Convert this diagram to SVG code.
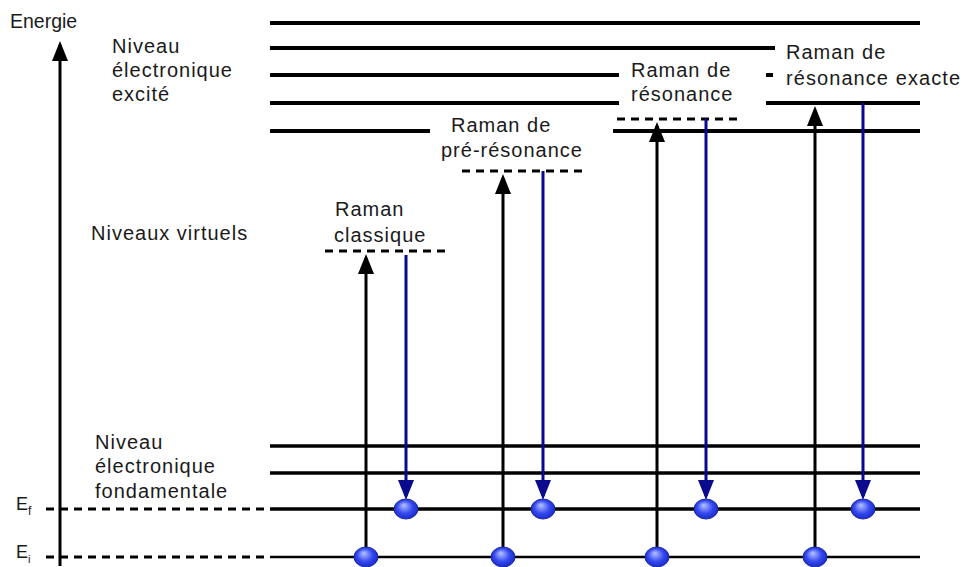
<svg xmlns="http://www.w3.org/2000/svg" width="965" height="567" viewBox="0 0 965 567">
<style>
text{font-family:"Liberation Sans",Arial,sans-serif;font-size:20px;letter-spacing:1px;fill:#1a1a1a}
.lvl{stroke:#000;stroke-width:4;fill:none}
.gnd{stroke:#000;stroke-width:3.5;fill:none}
.dash{stroke:#000;stroke-width:3;stroke-dasharray:8 6;fill:none}
.up{stroke:#000;stroke-width:3;fill:none;marker-end:url(#ah)}
.down{stroke:#0a0a8c;stroke-width:3;fill:none;marker-end:url(#ahb)}
.dot{fill:url(#ball);stroke:#1a2aa0;stroke-width:1}
</style>
<defs>
<marker id="ah" viewBox="0 0 20 16" refX="16" refY="8" markerWidth="20" markerHeight="16" markerUnits="userSpaceOnUse" orient="auto"><path d="M0,0 L20,8 L0,16 z" fill="#000"/></marker>
<marker id="ahb" viewBox="0 0 20 16" refX="16" refY="8" markerWidth="20" markerHeight="16" markerUnits="userSpaceOnUse" orient="auto"><path d="M0,0 L20,8 L0,16 z" fill="#0a0a8c"/></marker>
<radialGradient id="ball" cx="0.5" cy="0.5" r="0.6" fx="0.4" fy="0.3">
<stop offset="0" stop-color="#b8c4ff"/>
<stop offset="0.55" stop-color="#3348f0"/>
<stop offset="1" stop-color="#1420b8"/>
</radialGradient>
</defs>
<rect width="965" height="567" fill="#fff"/>

<g id="axis">
<line x1="60" y1="566" x2="60" y2="45" stroke="#000" stroke-width="3" marker-end="url(#ah)"/>
<text x="10" y="28" style="font-size:19.5px;letter-spacing:0">Energie</text>
</g>

<g id="excited-levels">
<line class="lvl" x1="270" y1="23" x2="920" y2="23"/>
<line class="lvl" x1="270" y1="48" x2="775" y2="48"/>
<line class="lvl" x1="270" y1="75" x2="619" y2="75"/>
<line class="lvl" x1="766" y1="75" x2="773" y2="75"/>
<line class="lvl" x1="270" y1="103" x2="619" y2="103"/>
<line class="lvl" x1="766" y1="103" x2="920" y2="103"/>
<line class="lvl" x1="270" y1="131" x2="430" y2="131"/>
<line class="lvl" x1="613" y1="131" x2="920" y2="131"/>
<text x="112" y="53">Niveau</text>
<text x="112" y="77">électronique</text>
<text x="112" y="101">excité</text>
</g>

<g id="ground-levels">
<line class="gnd" x1="270" y1="446" x2="920" y2="446"/>
<line class="gnd" x1="270" y1="473" x2="920" y2="473"/>
<line class="gnd" x1="270" y1="509" x2="920" y2="509"/>
<line stroke="#000" stroke-width="2.5" x1="270" y1="557" x2="920" y2="557"/>
<line class="dash" x1="46" y1="509" x2="270" y2="509"/>
<line class="dash" x1="46" y1="557" x2="270" y2="557"/>
<text x="95" y="449">Niveau</text>
<text x="95" y="473">électronique</text>
<text x="95" y="498">fondamentale</text>
<text x="16" y="510" style="font-size:18px;letter-spacing:0">E<tspan dy="5" style="font-size:12px">f</tspan></text>
<text x="16" y="558" style="font-size:18px;letter-spacing:0">E<tspan dy="5" style="font-size:11px">i</tspan></text>
</g>

<g id="virtual-levels">
<text x="91" y="240">Niveaux virtuels</text>
</g>

<g id="raman-classique">
<line class="dash" x1="325" y1="251" x2="447" y2="251"/>
<text x="335" y="216">Raman</text>
<text x="334" y="242">classique</text>
</g>

<g id="raman-pre-resonance">
<line class="dash" x1="462" y1="171" x2="584" y2="171"/>
<text x="451" y="132">Raman de</text>
<text x="441" y="157">pré-résonance</text>
</g>

<g id="raman-resonance">
<line class="dash" x1="617" y1="119" x2="739" y2="119"/>
<text x="631" y="77">Raman de</text>
<text x="631" y="101">résonance</text>
</g>

<g id="raman-resonance-exacte">
<text x="786" y="59">Raman de</text>
<text x="786" y="85" style="letter-spacing:0" textLength="174" lengthAdjust="spacing">résonance exacte</text>
</g>

<g id="connectors">
<line class="up" x1="366" y1="557" x2="366" y2="258"/>
<line class="down" x1="406" y1="255" x2="406" y2="496"/>
<line class="up" x1="503" y1="557" x2="503" y2="178"/>
<line class="down" x1="543" y1="171" x2="543" y2="496"/>
<line class="up" x1="657" y1="557" x2="657" y2="126"/>
<line class="down" x1="706" y1="119" x2="706" y2="496"/>
<line class="up" x1="815" y1="557" x2="815" y2="110"/>
<line class="down" x1="863" y1="103" x2="863" y2="496"/>
</g>

<g id="electrons">
<ellipse class="dot" cx="366" cy="557" rx="12" ry="10"/>
<ellipse class="dot" cx="503" cy="557" rx="12" ry="10"/>
<ellipse class="dot" cx="657" cy="557" rx="12" ry="10"/>
<ellipse class="dot" cx="815" cy="557" rx="12" ry="10"/>
<ellipse class="dot" cx="406" cy="509" rx="12" ry="10"/>
<ellipse class="dot" cx="543" cy="509" rx="12" ry="10"/>
<ellipse class="dot" cx="706" cy="509" rx="12" ry="10"/>
<ellipse class="dot" cx="863" cy="509" rx="12" ry="10"/>
</g>
</svg>
